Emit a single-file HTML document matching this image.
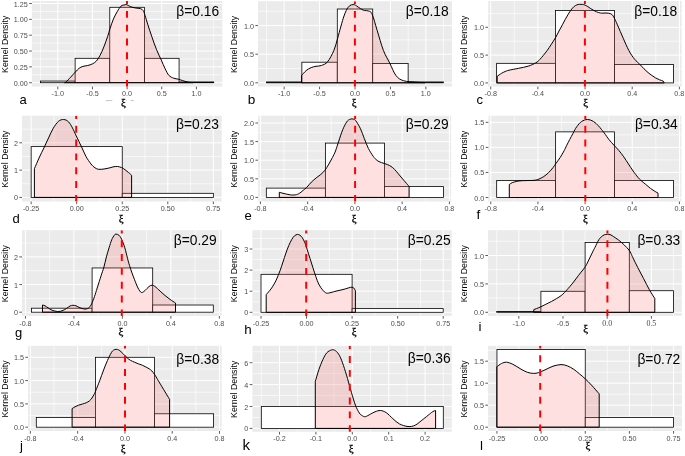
<!DOCTYPE html><html><head><meta charset="utf-8"><title>Kernel density panels</title>
<style>html,body{margin:0;padding:0;background:#fff;}svg{display:block;will-change:transform;}text{font-family:"Liberation Sans", sans-serif;}</style></head><body>
<svg width="685" height="456" viewBox="0 0 685 456">
<rect x="0" y="0" width="685" height="456" fill="#fff"/>
<clipPath id="ca"><rect x="31.9" y="1.05" width="190.4" height="85.55"/></clipPath>
<rect x="31.9" y="1.05" width="190.4" height="85.55" fill="#ebebeb"/>
<path d="M40.47 1.05V86.6M75.12 1.05V86.6M109.77 1.05V86.6M144.42 1.05V86.6M179.07 1.05V86.6M213.72 1.05V86.6M31.9 74.78H222.3M31.9 58.94H222.3M31.9 43.1H222.3M31.9 27.26H222.3M31.9 11.42H222.3" stroke="#fff" stroke-width="0.7" fill="none" opacity="0.9"/>
<path d="M57.8 1.05V86.6M92.45 1.05V86.6M127.1 1.05V86.6M161.75 1.05V86.6M196.4 1.05V86.6M31.9 82.7H222.3M31.9 66.86H222.3M31.9 51.02H222.3M31.9 35.18H222.3M31.9 19.34H222.3M31.9 3.5H222.3" stroke="#fff" stroke-width="1" fill="none"/>
<g clip-path="url(#ca)">
<rect x="40.47" y="81.05" width="34.65" height="1.65" fill="#fff" stroke="#000" stroke-width="0.8"/>
<rect x="75.12" y="58.31" width="34.65" height="24.39" fill="#fff" stroke="#000" stroke-width="0.8"/>
<rect x="109.77" y="7.3" width="34.65" height="75.4" fill="#fff" stroke="#000" stroke-width="0.8"/>
<rect x="144.42" y="58.31" width="34.65" height="24.39" fill="#fff" stroke="#000" stroke-width="0.8"/>
<rect x="179.07" y="81.94" width="34.65" height="0.76" fill="#fff" stroke="#000" stroke-width="0.8"/>
<path d="M64.5 82.7 C64.78 82.57 65.2 82.8 66.2 81.9 C67.2 81 68.98 78.93 70.5 77.3 C72.02 75.67 73.87 73.6 75.3 72.1 C76.73 70.6 77.83 69.25 79.1 68.3 C80.37 67.35 81.47 66.87 82.9 66.4 C84.33 65.93 86.12 65.92 87.7 65.5 C89.28 65.08 90.97 64.63 92.4 63.9 C93.83 63.17 95.02 62.53 96.3 61.1 C97.58 59.67 98.83 57.68 100.1 55.3 C101.37 52.92 102.63 49.97 103.9 46.8 C105.17 43.63 106.68 39.33 107.7 36.3 C108.72 33.27 109.05 31.47 110 28.6 C110.95 25.73 112.18 21.95 113.4 19.1 C114.62 16.25 116.02 13.67 117.3 11.5 C118.58 9.33 119.83 7.22 121.1 6.1 C122.37 4.98 123.93 5.02 124.9 4.8 C125.87 4.58 125.93 4.48 126.9 4.8 C127.87 5.12 129.27 6.17 130.7 6.7 C132.13 7.23 133.9 7.68 135.5 8 C137.1 8.32 139.03 8.18 140.3 8.6 C141.57 9.02 142.32 9.38 143.1 10.5 C143.88 11.62 144.2 12.92 145 15.3 C145.8 17.68 146.78 21.3 147.9 24.8 C149.02 28.3 150.27 32.17 151.7 36.3 C153.13 40.43 154.9 45.63 156.5 49.6 C158.1 53.57 159.87 56.92 161.3 60.1 C162.73 63.28 163.83 66.15 165.1 68.7 C166.37 71.25 167.47 73.82 168.9 75.4 C170.33 76.98 172.12 77.57 173.7 78.2 C175.28 78.83 176.97 78.82 178.4 79.2 C179.83 79.58 180.7 80.02 182.3 80.5 C183.9 80.98 186.22 81.75 188 82.1 C189.78 82.45 192.17 82.52 193 82.6 L193 82.7 L64.5 82.7 Z" fill="#ff6666" fill-opacity="0.2" stroke="#000" stroke-width="1" stroke-linejoin="round"/>
<line x1="127" y1="86.9" x2="127" y2="1.05" stroke="#ff0000" stroke-width="2" stroke-dasharray="6.9 6.92"/>
</g>
<path d="M57.8 86.6V89.3M92.45 86.6V89.3M127.1 86.6V89.3M161.75 86.6V89.3M196.4 86.6V89.3M29.2 82.7H31.9M29.2 66.86H31.9M29.2 51.02H31.9M29.2 35.18H31.9M29.2 19.34H31.9M29.2 3.5H31.9" stroke="#333" stroke-width="0.8" fill="none"/>
<text x="57.8" y="96.2" font-size="7.2" fill="#4d4d4d" text-anchor="middle">-1.0</text>
<text x="92.45" y="96.2" font-size="7.2" fill="#4d4d4d" text-anchor="middle">-0.5</text>
<text x="127.1" y="96.2" font-size="7.2" fill="#4d4d4d" text-anchor="middle">0.0</text>
<text x="161.75" y="96.2" font-size="7.2" fill="#4d4d4d" text-anchor="middle">0.5</text>
<text x="196.4" y="96.2" font-size="7.2" fill="#4d4d4d" text-anchor="middle">1.0</text>
<text x="27.8" y="85.7" font-size="7.2" fill="#4d4d4d" text-anchor="end">0.00</text>
<text x="27.8" y="69.86" font-size="7.2" fill="#4d4d4d" text-anchor="end">0.25</text>
<text x="27.8" y="54.02" font-size="7.2" fill="#4d4d4d" text-anchor="end">0.50</text>
<text x="27.8" y="38.18" font-size="7.2" fill="#4d4d4d" text-anchor="end">0.75</text>
<text x="27.8" y="22.34" font-size="7.2" fill="#4d4d4d" text-anchor="end">1.00</text>
<text x="27.8" y="6.5" font-size="7.2" fill="#4d4d4d" text-anchor="end">1.25</text>
<text transform="translate(7.6 44.32) rotate(-90)" font-size="8.8" text-anchor="middle" fill="#000">Kernel Density</text>
<text x="123.5" y="106.1" font-size="10.8" text-anchor="middle" fill="#000" stroke="#000" stroke-width="0.3" style="font-family:'Liberation Serif',serif">ξ</text>
<text x="219.2" y="15.7" font-size="13.8" text-anchor="end" fill="#000">β=0.16</text>
<text x="19.5" y="103.9" font-size="13.0" fill="#000">a</text>
<clipPath id="cb"><rect x="258.05" y="1.2" width="193.95" height="85.4"/></clipPath>
<rect x="258.05" y="1.2" width="193.95" height="85.4" fill="#ebebeb"/>
<path d="M266.44 1.2V86.6M301.86 1.2V86.6M337.29 1.2V86.6M372.71 1.2V86.6M408.14 1.2V86.6M443.56 1.2V86.6M258.05 68.5H452M258.05 39.9H452M258.05 11.3H452" stroke="#fff" stroke-width="0.7" fill="none" opacity="0.9"/>
<path d="M284.15 1.2V86.6M319.57 1.2V86.6M355 1.2V86.6M390.43 1.2V86.6M425.85 1.2V86.6M258.05 82.8H452M258.05 54.2H452M258.05 25.6H452" stroke="#fff" stroke-width="1" fill="none"/>
<g clip-path="url(#cb)">
<rect x="266.44" y="81.94" width="35.43" height="0.86" fill="#fff" stroke="#000" stroke-width="0.8"/>
<rect x="301.86" y="62.21" width="35.43" height="20.59" fill="#fff" stroke="#000" stroke-width="0.8"/>
<rect x="337.29" y="9.01" width="35.42" height="73.79" fill="#fff" stroke="#000" stroke-width="0.8"/>
<rect x="372.71" y="63.58" width="35.43" height="19.22" fill="#fff" stroke="#000" stroke-width="0.8"/>
<rect x="408.14" y="81.94" width="35.43" height="0.86" fill="#fff" stroke="#000" stroke-width="0.8"/>
<path d="M301.6 82.6 L301.6 75.6 C302.35 74.77 304.5 71.93 306.1 70.6 C307.7 69.27 309.55 68.32 311.2 67.6 C312.85 66.88 314.32 66.65 316 66.3 C317.68 65.95 319.37 66.25 321.3 65.5 C323.23 64.75 325.5 64.32 327.6 61.8 C329.7 59.28 332.27 54.18 333.9 50.4 C335.53 46.62 336.22 43.17 337.4 39.1 C338.58 35.03 339.9 29.85 341 26 C342.1 22.15 343 18.83 344 16 C345 13.17 346 10.75 347 9 C348 7.25 348.98 6.23 350 5.5 C351.02 4.77 352.18 4.65 353.1 4.6 C354.02 4.55 354.65 4.78 355.5 5.2 C356.35 5.62 356.92 6.28 358.2 7.1 C359.48 7.92 361.32 9.4 363.2 10.1 C365.08 10.8 367.95 10.47 369.5 11.3 C371.05 12.13 371.23 11.95 372.5 15.1 C373.77 18.25 375.28 24.32 377.1 30.2 C378.92 36.08 381.3 44.93 383.4 50.4 C385.5 55.87 387.6 58.8 389.7 63 C391.8 67.2 393.7 72.65 396 75.6 C398.3 78.55 400.17 79.6 403.5 80.7 C406.83 81.8 412.42 81.88 416 82.2 C419.58 82.52 423.5 82.53 425 82.6 L425 82.8 L301.6 82.8 Z" fill="#ff6666" fill-opacity="0.2" stroke="#000" stroke-width="1" stroke-linejoin="round"/>
<line x1="354.9" y1="86.9" x2="354.9" y2="1.2" stroke="#ff0000" stroke-width="2" stroke-dasharray="6.9 6.92"/>
</g>
<path d="M284.15 86.6V89.3M319.57 86.6V89.3M355 86.6V89.3M390.43 86.6V89.3M425.85 86.6V89.3M255.35 82.8H258.05M255.35 54.2H258.05M255.35 25.6H258.05" stroke="#333" stroke-width="0.8" fill="none"/>
<text x="284.15" y="96.2" font-size="7.2" fill="#4d4d4d" text-anchor="middle">-1.0</text>
<text x="319.57" y="96.2" font-size="7.2" fill="#4d4d4d" text-anchor="middle">-0.5</text>
<text x="355" y="96.2" font-size="7.2" fill="#4d4d4d" text-anchor="middle">0.0</text>
<text x="390.43" y="96.2" font-size="7.2" fill="#4d4d4d" text-anchor="middle">0.5</text>
<text x="425.85" y="96.2" font-size="7.2" fill="#4d4d4d" text-anchor="middle">1.0</text>
<text x="253.95" y="85.8" font-size="7.2" fill="#4d4d4d" text-anchor="end">0.0</text>
<text x="253.95" y="57.2" font-size="7.2" fill="#4d4d4d" text-anchor="end">0.5</text>
<text x="253.95" y="28.6" font-size="7.2" fill="#4d4d4d" text-anchor="end">1.0</text>
<text transform="translate(237.1 44.4) rotate(-90)" font-size="8.8" text-anchor="middle" fill="#000">Kernel Density</text>
<text x="354.2" y="106.3" font-size="10.8" text-anchor="middle" fill="#000" stroke="#000" stroke-width="0.3" style="font-family:'Liberation Serif',serif">ξ</text>
<text x="448.6" y="15.7" font-size="13.8" text-anchor="end" fill="#000">β=0.18</text>
<text x="247.8" y="103.9" font-size="13.5" fill="#000">b</text>
<clipPath id="cc"><rect x="488.1" y="1.05" width="193.6" height="85.55"/></clipPath>
<rect x="488.1" y="1.05" width="193.6" height="85.55" fill="#ebebeb"/>
<path d="M514.31 1.05V86.6M561.47 1.05V86.6M608.63 1.05V86.6M655.79 1.05V86.6M488.1 69H681.7M488.1 41.2H681.7M488.1 13.4H681.7" stroke="#fff" stroke-width="0.7" fill="none" opacity="0.9"/>
<path d="M490.73 1.05V86.6M537.89 1.05V86.6M585.05 1.05V86.6M632.21 1.05V86.6M679.37 1.05V86.6M488.1 82.9H681.7M488.1 55.1H681.7M488.1 27.3H681.7" stroke="#fff" stroke-width="1" fill="none"/>
<g clip-path="url(#cc)">
<rect x="496.62" y="63.33" width="58.95" height="19.57" fill="#fff" stroke="#000" stroke-width="0.8"/>
<rect x="555.57" y="10.51" width="58.95" height="72.39" fill="#fff" stroke="#000" stroke-width="0.8"/>
<rect x="614.52" y="64.5" width="58.95" height="18.4" fill="#fff" stroke="#000" stroke-width="0.8"/>
<path d="M497.2 82.9 L497.2 76.3 C497.9 75.82 500.1 74.18 501.4 73.4 C502.7 72.62 503.72 72.13 505 71.6 C506.28 71.07 506.83 70.75 509.1 70.2 C511.37 69.65 515.43 68.97 518.6 68.3 C521.77 67.63 525.23 67.1 528.1 66.2 C530.97 65.3 533.85 64.02 535.8 62.9 C537.75 61.78 538.53 60.77 539.8 59.5 C541.07 58.23 542.15 56.83 543.4 55.3 C544.65 53.77 546.03 52.05 547.3 50.3 C548.57 48.55 549.58 46.98 551 44.8 C552.42 42.62 554.47 39.5 555.8 37.2 C557.13 34.9 557.9 33.07 559 31 C560.1 28.93 561.35 26.75 562.4 24.8 C563.45 22.85 564.33 21.05 565.3 19.3 C566.27 17.55 567.25 15.85 568.2 14.3 C569.15 12.75 570.05 11.27 571 10 C571.95 8.73 572.93 7.55 573.9 6.7 C574.87 5.85 575.85 5.3 576.8 4.9 C577.75 4.5 578.65 4.38 579.6 4.3 C580.55 4.22 581.6 4.27 582.5 4.4 C583.4 4.53 584.12 4.73 585 5.1 C585.88 5.47 586.85 6.02 587.8 6.6 C588.75 7.18 589.73 7.98 590.7 8.6 C591.67 9.22 592.63 9.77 593.6 10.3 C594.57 10.83 595.38 11.35 596.5 11.8 C597.62 12.25 599.22 12.78 600.3 13 C601.38 13.22 602.05 13.1 603 13.1 C603.95 13.1 605.08 12.98 606 13 C606.92 13.02 607.7 13.07 608.5 13.2 C609.3 13.33 610.13 13.5 610.8 13.8 C611.47 14.1 612.03 14.5 612.5 15 C612.97 15.5 613.1 15.88 613.6 16.8 C614.1 17.72 614.87 19.17 615.5 20.5 C616.13 21.83 616.6 22.97 617.4 24.8 C618.2 26.63 619.33 29.27 620.3 31.5 C621.27 33.73 622.25 36.02 623.2 38.2 C624.15 40.38 625.05 42.53 626 44.6 C626.95 46.67 627.95 48.82 628.9 50.6 C629.85 52.38 630.75 53.87 631.7 55.3 C632.65 56.73 633.63 58.05 634.6 59.2 C635.57 60.35 636.55 61.25 637.5 62.2 C638.45 63.15 639.22 63.8 640.3 64.9 C641.38 66 642.72 67.53 644 68.8 C645.28 70.07 646.7 71.4 648 72.5 C649.3 73.6 650.53 74.5 651.8 75.4 C653.07 76.3 654.32 77.17 655.6 77.9 C656.88 78.63 658.23 79.27 659.5 79.8 C660.77 80.33 662.42 80.58 663.2 81.1 C663.98 81.62 664.03 82.6 664.2 82.9 L664.2 82.9 L497.2 82.9 Z" fill="#ff6666" fill-opacity="0.2" stroke="#000" stroke-width="1" stroke-linejoin="round"/>
<line x1="584.9" y1="86.9" x2="584.9" y2="1.05" stroke="#ff0000" stroke-width="2" stroke-dasharray="6.9 6.92"/>
</g>
<path d="M490.73 86.6V89.3M537.89 86.6V89.3M585.05 86.6V89.3M632.21 86.6V89.3M679.37 86.6V89.3M485.4 82.9H488.1M485.4 55.1H488.1M485.4 27.3H488.1" stroke="#333" stroke-width="0.8" fill="none"/>
<text x="490.73" y="96.2" font-size="7.2" fill="#4d4d4d" text-anchor="middle">-0.8</text>
<text x="537.89" y="96.2" font-size="7.2" fill="#4d4d4d" text-anchor="middle">-0.4</text>
<text x="585.05" y="96.2" font-size="7.2" fill="#4d4d4d" text-anchor="middle">0.0</text>
<text x="632.21" y="96.2" font-size="7.2" fill="#4d4d4d" text-anchor="middle">0.4</text>
<text x="679.37" y="96.2" font-size="7.2" fill="#4d4d4d" text-anchor="middle">0.8</text>
<text x="484" y="85.9" font-size="7.2" fill="#4d4d4d" text-anchor="end">0.0</text>
<text x="484" y="58.1" font-size="7.2" fill="#4d4d4d" text-anchor="end">0.5</text>
<text x="484" y="30.3" font-size="7.2" fill="#4d4d4d" text-anchor="end">1.0</text>
<text transform="translate(467.2 44.32) rotate(-90)" font-size="8.8" text-anchor="middle" fill="#000">Kernel Density</text>
<text x="585.6" y="106.2" font-size="10.8" text-anchor="middle" fill="#000" stroke="#000" stroke-width="0.3" style="font-family:'Liberation Serif',serif">ξ</text>
<text x="677.2" y="15.7" font-size="13.8" text-anchor="end" fill="#000">β=0.18</text>
<text x="476.6" y="103.9" font-size="13.0" fill="#000">c</text>
<clipPath id="cd"><rect x="22" y="115.7" width="199.7" height="85.8"/></clipPath>
<rect x="22" y="115.7" width="199.7" height="85.8" fill="#ebebeb"/>
<path d="M53.93 115.7V201.5M99.47 115.7V201.5M145.02 115.7V201.5M190.57 115.7V201.5M22 183.75H221.7M22 156.45H221.7M22 129.15H221.7" stroke="#fff" stroke-width="0.7" fill="none" opacity="0.9"/>
<path d="M31.15 115.7V201.5M76.7 115.7V201.5M122.25 115.7V201.5M167.8 115.7V201.5M213.35 115.7V201.5M22 197.4H221.7M22 170.1H221.7M22 142.8H221.7" stroke="#fff" stroke-width="1" fill="none"/>
<g clip-path="url(#cd)">
<rect x="31.15" y="146.62" width="91.1" height="50.78" fill="#fff" stroke="#000" stroke-width="0.8"/>
<rect x="122.25" y="193.31" width="91.1" height="4.09" fill="#fff" stroke="#000" stroke-width="0.8"/>
<path d="M34.4 197.4 L34.4 168.7 C35.25 166.75 37.92 160.45 39.5 157 C41.08 153.55 42.4 151.17 43.9 148 C45.4 144.83 46.93 141.3 48.5 138 C50.07 134.7 51.63 130.98 53.3 128.2 C54.97 125.42 56.77 122.75 58.5 121.3 C60.23 119.85 62.03 119.42 63.7 119.5 C65.37 119.58 67.03 120.38 68.5 121.8 C69.97 123.22 71.2 125.63 72.5 128 C73.8 130.37 74.78 132.83 76.3 136 C77.82 139.17 79.98 143.58 81.6 147 C83.22 150.42 84.43 153.67 86 156.5 C87.57 159.33 89.5 162.12 91 164 C92.5 165.88 93.73 166.92 95 167.8 C96.27 168.68 97.1 169.1 98.6 169.3 C100.1 169.5 102.12 169.25 104 169 C105.88 168.75 108.23 168.18 109.9 167.8 C111.57 167.42 112.73 166.92 114 166.7 C115.27 166.48 116.25 166.37 117.5 166.5 C118.75 166.63 120.25 166.97 121.5 167.5 C122.75 168.03 123.83 168.87 125 169.7 C126.17 170.53 127.4 171.57 128.5 172.5 C129.6 173.43 131.08 174.83 131.6 175.3 L131.6 197.4 L131.6 197.4 L34.4 197.4 Z" fill="#ff6666" fill-opacity="0.2" stroke="#000" stroke-width="1" stroke-linejoin="round"/>
<line x1="76.2" y1="201.8" x2="76.2" y2="115.7" stroke="#ff0000" stroke-width="2" stroke-dasharray="6.9 6.92"/>
</g>
<path d="M31.15 201.5V204.2M76.7 201.5V204.2M122.25 201.5V204.2M167.8 201.5V204.2M213.35 201.5V204.2M19.3 197.4H22M19.3 170.1H22M19.3 142.8H22" stroke="#333" stroke-width="0.8" fill="none"/>
<text x="31.15" y="211.1" font-size="7.2" fill="#4d4d4d" text-anchor="middle">-0.25</text>
<text x="76.7" y="211.1" font-size="7.2" fill="#4d4d4d" text-anchor="middle">0.00</text>
<text x="122.25" y="211.1" font-size="7.2" fill="#4d4d4d" text-anchor="middle">0.25</text>
<text x="167.8" y="211.1" font-size="7.2" fill="#4d4d4d" text-anchor="middle">0.50</text>
<text x="213.35" y="211.1" font-size="7.2" fill="#4d4d4d" text-anchor="middle">0.75</text>
<text x="17.9" y="200.4" font-size="7.2" fill="#4d4d4d" text-anchor="end">0</text>
<text x="17.9" y="173.1" font-size="7.2" fill="#4d4d4d" text-anchor="end">1</text>
<text x="17.9" y="145.8" font-size="7.2" fill="#4d4d4d" text-anchor="end">2</text>
<text transform="translate(7.6 159.1) rotate(-90)" font-size="8.8" text-anchor="middle" fill="#000">Kernel Density</text>
<text x="121.1" y="222.2" font-size="10.8" text-anchor="middle" fill="#000" stroke="#000" stroke-width="0.3" style="font-family:'Liberation Serif',serif">ξ</text>
<text x="218.85" y="129.4" font-size="13.8" text-anchor="end" fill="#000">β=0.23</text>
<text x="12.5" y="222.9" font-size="13.0" fill="#000">d</text>
<clipPath id="ce"><rect x="258.1" y="115.7" width="193.1" height="85.8"/></clipPath>
<rect x="258.1" y="115.7" width="193.1" height="85.8" fill="#ebebeb"/>
<path d="M284.04 115.7V201.5M331.28 115.7V201.5M378.52 115.7V201.5M425.76 115.7V201.5M258.1 188.1H451.2M258.1 169.5H451.2M258.1 150.9H451.2M258.1 132.3H451.2" stroke="#fff" stroke-width="0.7" fill="none" opacity="0.9"/>
<path d="M260.42 115.7V201.5M307.66 115.7V201.5M354.9 115.7V201.5M402.14 115.7V201.5M449.38 115.7V201.5M258.1 197.4H451.2M258.1 178.8H451.2M258.1 160.2H451.2M258.1 141.6H451.2M258.1 123H451.2" stroke="#fff" stroke-width="1" fill="none"/>
<g clip-path="url(#ce)">
<rect x="266.32" y="188.1" width="59.05" height="9.3" fill="#fff" stroke="#000" stroke-width="0.8"/>
<rect x="325.38" y="143.09" width="59.05" height="54.31" fill="#fff" stroke="#000" stroke-width="0.8"/>
<rect x="384.42" y="186.61" width="59.05" height="10.79" fill="#fff" stroke="#000" stroke-width="0.8"/>
<path d="M279.3 197.4 L279.3 192.3 C279.92 192.47 281.73 192.98 283 193.3 C284.27 193.62 285.65 193.93 286.9 194.2 C288.15 194.47 289.33 194.77 290.5 194.9 C291.67 195.03 292.9 195.05 293.9 195 C294.9 194.95 295.72 194.8 296.5 194.6 C297.28 194.4 297.85 194.2 298.6 193.8 C299.35 193.4 300.23 192.78 301 192.2 C301.77 191.62 302.25 191.1 303.2 190.3 C304.15 189.5 305.33 188.77 306.7 187.4 C308.07 186.03 309.83 183.67 311.4 182.1 C312.97 180.53 314.55 179.27 316.1 178 C317.65 176.73 319.25 175.77 320.7 174.5 C322.15 173.23 323.43 172.15 324.8 170.4 C326.17 168.65 327.63 166.13 328.9 164 C330.17 161.87 331.3 159.77 332.4 157.6 C333.5 155.43 334.43 153.77 335.5 151 C336.57 148.23 337.58 144.58 338.8 141 C340.02 137.42 341.48 132.68 342.8 129.5 C344.12 126.32 345.58 123.57 346.7 121.9 C347.82 120.23 348.62 120 349.5 119.5 C350.38 119 351.17 118.88 352 118.9 C352.83 118.92 353.73 119.1 354.5 119.6 C355.27 120.1 355.6 120.37 356.6 121.9 C357.6 123.43 359.2 126 360.5 128.8 C361.8 131.6 363.08 135.42 364.4 138.7 C365.72 141.98 366.92 145.55 368.4 148.5 C369.88 151.45 372.07 154.6 373.3 156.4 C374.53 158.2 374.85 158.43 375.8 159.3 C376.75 160.17 377.63 160.92 379 161.6 C380.37 162.28 382.58 162.9 384 163.4 C385.42 163.9 386.33 164.1 387.5 164.6 C388.67 165.1 389.83 165.62 391 166.4 C392.17 167.18 393.33 168.13 394.5 169.3 C395.67 170.47 396.92 172.12 398 173.4 C399.08 174.68 400.02 175.83 401 177 C401.98 178.17 402.98 179.33 403.9 180.4 C404.82 181.47 405.63 182.4 406.5 183.4 C407.37 184.4 408.67 185.9 409.1 186.4 L409.1 197.4 L409.1 197.4 L279.3 197.4 Z" fill="#ff6666" fill-opacity="0.2" stroke="#000" stroke-width="1" stroke-linejoin="round"/>
<line x1="355.1" y1="201.8" x2="355.1" y2="115.7" stroke="#ff0000" stroke-width="2" stroke-dasharray="6.9 6.92"/>
</g>
<path d="M260.42 201.5V204.2M307.66 201.5V204.2M354.9 201.5V204.2M402.14 201.5V204.2M449.38 201.5V204.2M255.4 197.4H258.1M255.4 178.8H258.1M255.4 160.2H258.1M255.4 141.6H258.1M255.4 123H258.1" stroke="#333" stroke-width="0.8" fill="none"/>
<text x="260.42" y="211.1" font-size="7.2" fill="#4d4d4d" text-anchor="middle">-0.8</text>
<text x="307.66" y="211.1" font-size="7.2" fill="#4d4d4d" text-anchor="middle">-0.4</text>
<text x="354.9" y="211.1" font-size="7.2" fill="#4d4d4d" text-anchor="middle">0.0</text>
<text x="402.14" y="211.1" font-size="7.2" fill="#4d4d4d" text-anchor="middle">0.4</text>
<text x="449.38" y="211.1" font-size="7.2" fill="#4d4d4d" text-anchor="middle">0.8</text>
<text x="254" y="200.4" font-size="7.2" fill="#4d4d4d" text-anchor="end">0.0</text>
<text x="254" y="181.8" font-size="7.2" fill="#4d4d4d" text-anchor="end">0.5</text>
<text x="254" y="163.2" font-size="7.2" fill="#4d4d4d" text-anchor="end">1.0</text>
<text x="254" y="144.6" font-size="7.2" fill="#4d4d4d" text-anchor="end">1.5</text>
<text x="254" y="126" font-size="7.2" fill="#4d4d4d" text-anchor="end">2.0</text>
<text transform="translate(237.1 159.1) rotate(-90)" font-size="8.8" text-anchor="middle" fill="#000">Kernel Density</text>
<text x="354.1" y="222.2" font-size="10.8" text-anchor="middle" fill="#000" stroke="#000" stroke-width="0.3" style="font-family:'Liberation Serif',serif">ξ</text>
<text x="448.6" y="129.4" font-size="13.8" text-anchor="end" fill="#000">β=0.29</text>
<text x="244.4" y="219.7" font-size="13.0" fill="#000">e</text>
<clipPath id="cf"><rect x="488.4" y="115.7" width="193" height="85.8"/></clipPath>
<rect x="488.4" y="115.7" width="193" height="85.8" fill="#ebebeb"/>
<path d="M514.36 115.7V201.5M561.52 115.7V201.5M608.68 115.7V201.5M655.84 115.7V201.5M488.4 184.97H681.4M488.4 159.93H681.4M488.4 134.88H681.4" stroke="#fff" stroke-width="0.7" fill="none" opacity="0.9"/>
<path d="M490.78 115.7V201.5M537.94 115.7V201.5M585.1 115.7V201.5M632.26 115.7V201.5M679.42 115.7V201.5M488.4 197.5H681.4M488.4 172.45H681.4M488.4 147.4H681.4M488.4 122.35H681.4" stroke="#fff" stroke-width="1" fill="none"/>
<g clip-path="url(#cf)">
<rect x="496.68" y="180.47" width="58.95" height="17.03" fill="#fff" stroke="#000" stroke-width="0.8"/>
<rect x="555.62" y="131.87" width="58.95" height="65.63" fill="#fff" stroke="#000" stroke-width="0.8"/>
<rect x="614.58" y="180.47" width="58.95" height="17.03" fill="#fff" stroke="#000" stroke-width="0.8"/>
<path d="M509.3 197.5 L509.3 184.5 C509.78 184.2 510.93 183.23 512.2 182.7 C513.47 182.17 515.43 181.62 516.9 181.3 C518.37 180.98 519.65 180.92 521 180.8 C522.35 180.68 522.97 180.67 525 180.6 C527.03 180.53 531.28 180.53 533.2 180.4 C535.12 180.27 535.52 180.03 536.5 179.8 C537.48 179.57 537.9 179.53 539.1 179 C540.3 178.47 542.15 177.63 543.7 176.6 C545.25 175.57 546.83 174.32 548.4 172.8 C549.97 171.28 551.83 169.07 553.1 167.5 C554.37 165.93 554.83 165.05 556 163.4 C557.17 161.75 558.73 159.73 560.1 157.6 C561.47 155.47 563.08 152.67 564.2 150.6 C565.32 148.53 565.37 148.02 566.8 145.2 C568.23 142.38 571.15 136.77 572.8 133.7 C574.45 130.63 575.23 128.83 576.7 126.8 C578.17 124.77 579.8 122.72 581.6 121.5 C583.4 120.28 585.52 119.5 587.5 119.5 C589.48 119.5 591.68 120.45 593.5 121.5 C595.32 122.55 597.07 124.47 598.4 125.8 C599.73 127.13 600.52 128.3 601.5 129.5 C602.48 130.7 603.05 131.32 604.3 133 C605.55 134.68 607.35 137.52 609 139.6 C610.65 141.68 612.55 143.68 614.2 145.5 C615.85 147.32 617.32 148.62 618.9 150.5 C620.48 152.38 622.12 154.57 623.7 156.8 C625.28 159.03 626.83 161.53 628.4 163.9 C629.97 166.27 631.52 168.77 633.1 171 C634.68 173.23 636.58 175.72 637.9 177.3 C639.22 178.88 639.7 179.32 641 180.5 C642.3 181.68 644.12 183.08 645.7 184.4 C647.28 185.72 648.92 187.22 650.5 188.4 C652.08 189.58 653.95 190.72 655.2 191.5 C656.45 192.28 657.53 192.83 658 193.1 L658 197.5 L658 197.5 L509.3 197.5 Z" fill="#ff6666" fill-opacity="0.2" stroke="#000" stroke-width="1" stroke-linejoin="round"/>
<line x1="585.3" y1="201.8" x2="585.3" y2="115.7" stroke="#ff0000" stroke-width="2" stroke-dasharray="6.9 6.92"/>
</g>
<path d="M490.78 201.5V204.2M537.94 201.5V204.2M585.1 201.5V204.2M632.26 201.5V204.2M679.42 201.5V204.2M485.7 197.5H488.4M485.7 172.45H488.4M485.7 147.4H488.4M485.7 122.35H488.4" stroke="#333" stroke-width="0.8" fill="none"/>
<text x="490.78" y="211.1" font-size="7.2" fill="#4d4d4d" text-anchor="middle">-0.8</text>
<text x="537.94" y="211.1" font-size="7.2" fill="#4d4d4d" text-anchor="middle">-0.4</text>
<text x="585.1" y="211.1" font-size="7.2" fill="#4d4d4d" text-anchor="middle">0.0</text>
<text x="632.26" y="211.1" font-size="7.2" fill="#4d4d4d" text-anchor="middle">0.4</text>
<text x="679.42" y="211.1" font-size="7.2" fill="#4d4d4d" text-anchor="middle">0.8</text>
<text x="484.3" y="200.5" font-size="7.2" fill="#4d4d4d" text-anchor="end">0.0</text>
<text x="484.3" y="175.45" font-size="7.2" fill="#4d4d4d" text-anchor="end">0.5</text>
<text x="484.3" y="150.4" font-size="7.2" fill="#4d4d4d" text-anchor="end">1.0</text>
<text x="484.3" y="125.35" font-size="7.2" fill="#4d4d4d" text-anchor="end">1.5</text>
<text transform="translate(467.2 159.1) rotate(-90)" font-size="8.8" text-anchor="middle" fill="#000">Kernel Density</text>
<text x="585.5" y="222.2" font-size="10.8" text-anchor="middle" fill="#000" stroke="#000" stroke-width="0.3" style="font-family:'Liberation Serif',serif">ξ</text>
<text x="677.8" y="129.4" font-size="13.8" text-anchor="end" fill="#000">β=0.34</text>
<text x="476.4" y="219" font-size="13.5" fill="#000">f</text>
<clipPath id="cg"><rect x="22" y="230.2" width="199.7" height="85.8"/></clipPath>
<rect x="22" y="230.2" width="199.7" height="85.8" fill="#ebebeb"/>
<path d="M49.68 230.2V316M98.16 230.2V316M146.64 230.2V316M195.12 230.2V316M22 298.38H221.7M22 270.73H221.7M22 243.07H221.7" stroke="#fff" stroke-width="0.7" fill="none" opacity="0.9"/>
<path d="M25.44 230.2V316M73.92 230.2V316M122.4 230.2V316M170.88 230.2V316M219.36 230.2V316M22 312.2H221.7M22 284.55H221.7M22 256.9H221.7" stroke="#fff" stroke-width="1" fill="none"/>
<g clip-path="url(#cg)">
<rect x="31.5" y="308.19" width="60.6" height="4.01" fill="#fff" stroke="#000" stroke-width="0.8"/>
<rect x="92.1" y="267.96" width="60.6" height="44.24" fill="#fff" stroke="#000" stroke-width="0.8"/>
<rect x="152.7" y="305.01" width="60.6" height="7.19" fill="#fff" stroke="#000" stroke-width="0.8"/>
<path d="M42.5 312.2 L42.5 305 C42.92 305.13 44.08 305.33 45 305.8 C45.92 306.27 46.83 307.07 48 307.8 C49.17 308.53 50.38 309.58 52 310.2 C53.62 310.82 56.03 311.4 57.7 311.5 C59.37 311.6 60.53 311.3 62 310.8 C63.47 310.3 65.17 309.3 66.5 308.5 C67.83 307.7 68.93 306.53 70 306 C71.07 305.47 71.9 305.33 72.9 305.3 C73.9 305.27 74.82 305.38 76 305.8 C77.18 306.22 78.57 307.25 80 307.8 C81.43 308.35 83.35 308.97 84.6 309.1 C85.85 309.23 86.72 308.88 87.5 308.6 C88.28 308.32 88.62 308.18 89.3 307.4 C89.98 306.62 90.73 305.72 91.6 303.9 C92.47 302.08 93.57 299.15 94.5 296.5 C95.43 293.85 96.08 291.52 97.2 288 C98.32 284.48 100.1 278.82 101.2 275.4 C102.3 271.98 102.93 270.58 103.8 267.5 C104.67 264.42 105.52 260.2 106.4 256.9 C107.28 253.6 108.22 250.55 109.1 247.7 C109.98 244.85 110.83 241.88 111.7 239.8 C112.57 237.72 113.6 236.15 114.3 235.2 C115 234.25 115.13 234.1 115.9 234.1 C116.67 234.1 117.95 234.35 118.9 235.2 C119.85 236.05 120.62 237.12 121.6 239.2 C122.58 241.28 123.82 244.52 124.8 247.7 C125.78 250.88 126.72 255.33 127.5 258.3 C128.28 261.27 128.75 263.05 129.5 265.5 C130.25 267.95 131.18 270.7 132 273 C132.82 275.3 133.4 276.8 134.4 279.3 C135.4 281.8 136.83 285.8 138 288 C139.17 290.2 140.23 292.08 141.4 292.5 C142.57 292.92 143.73 291.5 145 290.5 C146.27 289.5 147.8 287.38 149 286.5 C150.2 285.62 151.2 285.2 152.2 285.2 C153.2 285.2 153.68 285.52 155 286.5 C156.32 287.48 158.43 289.6 160.1 291.1 C161.77 292.6 163.35 294.12 165 295.5 C166.65 296.88 168.25 298.15 170 299.4 C171.75 300.65 174.58 302.4 175.5 303 L175.5 312.2 L175.5 312.2 L42.5 312.2 Z" fill="#ff6666" fill-opacity="0.2" stroke="#000" stroke-width="1" stroke-linejoin="round"/>
<line x1="121.8" y1="316.3" x2="121.8" y2="230.2" stroke="#ff0000" stroke-width="2" stroke-dasharray="6.9 6.92"/>
</g>
<path d="M25.44 316V318.7M73.92 316V318.7M122.4 316V318.7M170.88 316V318.7M219.36 316V318.7M19.3 312.2H22M19.3 284.55H22M19.3 256.9H22" stroke="#333" stroke-width="0.8" fill="none"/>
<text x="25.44" y="325.6" font-size="7.2" fill="#4d4d4d" text-anchor="middle">-0.8</text>
<text x="73.92" y="325.6" font-size="7.2" fill="#4d4d4d" text-anchor="middle">-0.4</text>
<text x="122.4" y="325.6" font-size="7.2" fill="#4d4d4d" text-anchor="middle">0.0</text>
<text x="170.88" y="325.6" font-size="7.2" fill="#4d4d4d" text-anchor="middle">0.4</text>
<text x="219.36" y="325.6" font-size="7.2" fill="#4d4d4d" text-anchor="middle">0.8</text>
<text x="17.9" y="315.2" font-size="7.2" fill="#4d4d4d" text-anchor="end">0</text>
<text x="17.9" y="287.55" font-size="7.2" fill="#4d4d4d" text-anchor="end">1</text>
<text x="17.9" y="259.9" font-size="7.2" fill="#4d4d4d" text-anchor="end">2</text>
<text transform="translate(7.6 273.6) rotate(-90)" font-size="8.8" text-anchor="middle" fill="#000">Kernel Density</text>
<text x="121" y="335.4" font-size="10.8" text-anchor="middle" fill="#000" stroke="#000" stroke-width="0.3" style="font-family:'Liberation Serif',serif">ξ</text>
<text x="216.6" y="245" font-size="13.8" text-anchor="end" fill="#000">β=0.29</text>
<text x="14.9" y="336.6" font-size="13.0" fill="#000">g</text>
<clipPath id="ch"><rect x="252.4" y="230.2" width="199.3" height="85.8"/></clipPath>
<rect x="252.4" y="230.2" width="199.3" height="85.8" fill="#ebebeb"/>
<path d="M283.78 230.2V316M329.32 230.2V316M374.88 230.2V316M420.43 230.2V316M252.4 301.75H451.7M252.4 280.65H451.7M252.4 259.55H451.7M252.4 238.45H451.7" stroke="#fff" stroke-width="0.7" fill="none" opacity="0.9"/>
<path d="M261 230.2V316M306.55 230.2V316M352.1 230.2V316M397.65 230.2V316M443.2 230.2V316M252.4 312.3H451.7M252.4 291.2H451.7M252.4 270.1H451.7M252.4 249H451.7" stroke="#fff" stroke-width="1" fill="none"/>
<g clip-path="url(#ch)">
<rect x="261" y="274.32" width="91.1" height="37.98" fill="#fff" stroke="#000" stroke-width="0.8"/>
<rect x="352.1" y="308.61" width="91.1" height="3.69" fill="#fff" stroke="#000" stroke-width="0.8"/>
<path d="M266.2 312.3 L266.2 294.6 C266.75 293.97 268.47 292.08 269.5 290.8 C270.53 289.52 271.28 288.68 272.4 286.9 C273.52 285.12 274.92 282.83 276.2 280.1 C277.48 277.37 278.97 273.52 280.1 270.5 C281.23 267.48 282.03 264.9 283 262 C283.97 259.1 284.93 255.85 285.9 253.1 C286.87 250.35 287.83 247.75 288.8 245.5 C289.77 243.25 290.75 241.22 291.7 239.6 C292.65 237.98 293.53 236.67 294.5 235.8 C295.47 234.93 296.58 234.48 297.5 234.4 C298.42 234.32 299.2 234.75 300 235.3 C300.8 235.85 301.5 236.48 302.3 237.7 C303.1 238.92 304 240.68 304.8 242.6 C305.6 244.52 306.23 246.55 307.1 249.2 C307.97 251.85 309.03 255.43 310 258.5 C310.97 261.57 311.93 264.6 312.9 267.6 C313.87 270.6 314.83 273.77 315.8 276.5 C316.77 279.23 317.58 281.78 318.7 284 C319.82 286.22 321.22 288.28 322.5 289.8 C323.78 291.32 324.98 292.65 326.4 293.1 C327.82 293.55 329.38 292.83 331 292.5 C332.62 292.17 334.43 291.52 336.1 291.1 C337.77 290.68 339.4 290.38 341 290 C342.6 289.62 344.1 289.25 345.7 288.8 C347.3 288.35 349.38 287.52 350.6 287.3 C351.82 287.08 352.37 287.25 353 287.5 C353.63 287.75 354 288.27 354.4 288.8 C354.8 289.33 355.23 290.38 355.4 290.7 L355.4 312.3 L355.4 312.3 L266.2 312.3 Z" fill="#ff6666" fill-opacity="0.2" stroke="#000" stroke-width="1" stroke-linejoin="round"/>
<line x1="306.2" y1="316.3" x2="306.2" y2="230.2" stroke="#ff0000" stroke-width="2" stroke-dasharray="6.9 6.92"/>
</g>
<path d="M261 316V318.7M306.55 316V318.7M352.1 316V318.7M397.65 316V318.7M443.2 316V318.7M249.7 312.3H252.4M249.7 291.2H252.4M249.7 270.1H252.4M249.7 249H252.4" stroke="#333" stroke-width="0.8" fill="none"/>
<text x="261" y="325.6" font-size="7.2" fill="#4d4d4d" text-anchor="middle">-0.25</text>
<text x="306.55" y="325.6" font-size="7.2" fill="#4d4d4d" text-anchor="middle">0.00</text>
<text x="352.1" y="325.6" font-size="7.2" fill="#4d4d4d" text-anchor="middle">0.25</text>
<text x="397.65" y="325.6" font-size="7.2" fill="#4d4d4d" text-anchor="middle">0.50</text>
<text x="443.2" y="325.6" font-size="7.2" fill="#4d4d4d" text-anchor="middle">0.75</text>
<text x="248.3" y="315.3" font-size="7.2" fill="#4d4d4d" text-anchor="end">0</text>
<text x="248.3" y="294.2" font-size="7.2" fill="#4d4d4d" text-anchor="end">1</text>
<text x="248.3" y="273.1" font-size="7.2" fill="#4d4d4d" text-anchor="end">2</text>
<text x="248.3" y="252" font-size="7.2" fill="#4d4d4d" text-anchor="end">3</text>
<text transform="translate(237.1 273.6) rotate(-90)" font-size="8.8" text-anchor="middle" fill="#000">Kernel Density</text>
<text x="354.1" y="335.4" font-size="10.8" text-anchor="middle" fill="#000" stroke="#000" stroke-width="0.3" style="font-family:'Liberation Serif',serif">ξ</text>
<text x="450.7" y="244.8" font-size="13.8" text-anchor="end" fill="#000">β=0.25</text>
<text x="244.2" y="334.1" font-size="13.4" fill="#000">h</text>
<clipPath id="ci"><rect x="488" y="230.2" width="193.8" height="85.8"/></clipPath>
<rect x="488" y="230.2" width="193.8" height="85.8" fill="#ebebeb"/>
<path d="M496.7 230.2V316M540.9 230.2V316M585.1 230.2V316M629.3 230.2V316M673.5 230.2V316M488 298.1H681.8M488 269.7H681.8M488 241.3H681.8" stroke="#fff" stroke-width="0.7" fill="none" opacity="0.9"/>
<path d="M518.8 230.2V316M563 230.2V316M607.2 230.2V316M651.4 230.2V316M488 312.3H681.8M488 283.9H681.8M488 255.5H681.8" stroke="#fff" stroke-width="1" fill="none"/>
<g clip-path="url(#ci)">
<rect x="496.7" y="311.45" width="44.2" height="0.85" fill="#fff" stroke="#000" stroke-width="0.8"/>
<rect x="540.9" y="291.28" width="44.2" height="21.02" fill="#fff" stroke="#000" stroke-width="0.8"/>
<rect x="585.1" y="242.44" width="44.2" height="69.86" fill="#fff" stroke="#000" stroke-width="0.8"/>
<rect x="629.3" y="290.72" width="44.2" height="21.58" fill="#fff" stroke="#000" stroke-width="0.8"/>
<path d="M533.8 312.3 L533.8 309.6 C534.83 309.2 538 308.08 540 307.2 C542 306.32 543.87 305.27 545.8 304.3 C547.73 303.33 549.82 302.35 551.6 301.4 C553.38 300.45 554.9 299.57 556.5 298.6 C558.1 297.63 559.92 296.55 561.2 295.6 C562.48 294.65 563.23 293.87 564.2 292.9 C565.17 291.93 565.57 291.45 567 289.8 C568.43 288.15 570.87 285.42 572.8 283 C574.73 280.58 577.07 277.3 578.6 275.3 C580.13 273.3 580.87 272.45 582 271 C583.13 269.55 584.43 268.1 585.4 266.6 C586.37 265.1 587 263.6 587.8 262 C588.6 260.4 589.4 258.67 590.2 257 C591 255.33 591.8 253.62 592.6 252 C593.4 250.38 593.95 249.37 595 247.3 C596.05 245.23 597.62 241.53 598.9 239.6 C600.18 237.67 601.6 236.55 602.7 235.7 C603.8 234.85 604.47 234.73 605.5 234.5 C606.53 234.27 607.98 234.22 608.9 234.3 C609.82 234.38 610.2 234.6 611 235 C611.8 235.4 612.45 235.87 613.7 236.7 C614.95 237.53 616.73 238.62 618.5 240 C620.27 241.38 622.53 243.3 624.3 245 C626.07 246.7 627.98 248.78 629.1 250.2 C630.22 251.62 630.35 252.22 631 253.5 C631.65 254.78 631.87 255.55 633 257.9 C634.13 260.25 636.03 264.15 637.8 267.6 C639.57 271.05 641.67 274.9 643.6 278.6 C645.53 282.3 647.53 286.48 649.4 289.8 C651.27 293.12 653.9 297.05 654.8 298.5 L654.8 312.3 L654.8 312.3 L533.8 312.3 Z" fill="#ff6666" fill-opacity="0.2" stroke="#000" stroke-width="1" stroke-linejoin="round"/>
<line x1="607.4" y1="316.3" x2="607.4" y2="230.2" stroke="#ff0000" stroke-width="2" stroke-dasharray="6.9 6.92"/>
</g>
<path d="M518.8 316V318.7M563 316V318.7M607.2 316V318.7M651.4 316V318.7M485.3 312.3H488M485.3 283.9H488M485.3 255.5H488" stroke="#333" stroke-width="0.8" fill="none"/>
<text x="518.8" y="325.6" font-size="7.2" fill="#4d4d4d" text-anchor="middle">-1.0</text>
<text x="563" y="325.6" font-size="7.2" fill="#4d4d4d" text-anchor="middle">-0.5</text>
<text x="607.2" y="325.6" font-size="7.9" fill="#4d4d4d" text-anchor="middle" style="font-family:'Liberation Serif',serif">0.0</text>
<text x="651.4" y="325.6" font-size="7.9" fill="#4d4d4d" text-anchor="middle" style="font-family:'Liberation Serif',serif">0.5</text>
<text x="483.9" y="315.3" font-size="7.2" fill="#4d4d4d" text-anchor="end">0.0</text>
<text x="483.9" y="286.9" font-size="7.2" fill="#4d4d4d" text-anchor="end">0.5</text>
<text x="483.9" y="258.5" font-size="7.2" fill="#4d4d4d" text-anchor="end">1.0</text>
<text transform="translate(467.2 273.6) rotate(-90)" font-size="8.8" text-anchor="middle" fill="#000">Kernel Density</text>
<text x="585.6" y="332.2" font-size="10.8" text-anchor="middle" fill="#000" stroke="#000" stroke-width="0.3" style="font-family:'Liberation Serif',serif">ξ</text>
<text x="680.3" y="244.8" font-size="13.8" text-anchor="end" fill="#000">β=0.33</text>
<text x="478.6" y="331" font-size="13.5" fill="#000">i</text>
<clipPath id="cj"><rect x="28" y="345.8" width="193.7" height="85.2"/></clipPath>
<rect x="28" y="345.8" width="193.7" height="85.2" fill="#ebebeb"/>
<path d="M54.03 345.8V431M101.31 345.8V431M148.59 345.8V431M195.87 345.8V431M28 415.55H221.7M28 392.25H221.7M28 368.95H221.7" stroke="#fff" stroke-width="0.7" fill="none" opacity="0.9"/>
<path d="M30.39 345.8V431M77.67 345.8V431M124.95 345.8V431M172.23 345.8V431M219.51 345.8V431M28 427.2H221.7M28 403.9H221.7M28 380.6H221.7M28 357.3H221.7" stroke="#fff" stroke-width="1" fill="none"/>
<g clip-path="url(#cj)">
<rect x="36.3" y="417.41" width="59.1" height="9.79" fill="#fff" stroke="#000" stroke-width="0.8"/>
<rect x="95.4" y="357.3" width="59.1" height="69.9" fill="#fff" stroke="#000" stroke-width="0.8"/>
<rect x="154.5" y="413.78" width="59.1" height="13.42" fill="#fff" stroke="#000" stroke-width="0.8"/>
<path d="M72.1 427.2 L72.1 408.6 C72.58 408.3 73.93 407.37 75 406.8 C76.07 406.23 77.25 405.67 78.5 405.2 C79.75 404.73 81.22 404.4 82.5 404 C83.78 403.6 85.03 403.33 86.2 402.8 C87.37 402.27 88.53 401.6 89.5 400.8 C90.47 400 91.25 399.05 92 398 C92.75 396.95 93.35 395.78 94 394.5 C94.65 393.22 94.95 392.62 95.9 390.3 C96.85 387.98 98.42 383.98 99.7 380.6 C100.98 377.22 102.3 373.37 103.6 370 C104.9 366.63 106.22 363.28 107.5 360.4 C108.78 357.52 110.3 354.4 111.3 352.7 C112.3 351 112.68 350.77 113.5 350.2 C114.32 349.63 115.32 349.33 116.2 349.3 C117.08 349.27 118 349.6 118.8 350 C119.6 350.4 120 350.78 121 351.7 C122 352.62 123.72 354.42 124.8 355.5 C125.88 356.58 126.53 357.38 127.5 358.2 C128.47 359.02 129.43 359.73 130.6 360.4 C131.77 361.07 133.2 361.63 134.5 362.2 C135.8 362.77 137.07 363.28 138.4 363.8 C139.73 364.32 141.22 364.75 142.5 365.3 C143.78 365.85 144.98 366.52 146.1 367.1 C147.22 367.68 148.23 368.15 149.2 368.8 C150.17 369.45 150.97 370 151.9 371 C152.83 372 153.83 373.35 154.8 374.8 C155.77 376.25 156.25 377.28 157.7 379.7 C159.15 382.12 161.52 386.02 163.5 389.3 C165.48 392.58 168.58 397.72 169.6 399.4 L169.6 427.2 L169.6 427.2 L72.1 427.2 Z" fill="#ff6666" fill-opacity="0.2" stroke="#000" stroke-width="1" stroke-linejoin="round"/>
<line x1="125" y1="431.3" x2="125" y2="345.8" stroke="#ff0000" stroke-width="2" stroke-dasharray="6.9 6.92"/>
</g>
<path d="M30.39 431V433.7M77.67 431V433.7M124.95 431V433.7M172.23 431V433.7M219.51 431V433.7M25.3 427.2H28M25.3 403.9H28M25.3 380.6H28M25.3 357.3H28" stroke="#333" stroke-width="0.8" fill="none"/>
<text x="30.39" y="440.6" font-size="7.2" fill="#4d4d4d" text-anchor="middle">-0.8</text>
<text x="77.67" y="440.6" font-size="7.2" fill="#4d4d4d" text-anchor="middle">-0.4</text>
<text x="124.95" y="440.6" font-size="7.2" fill="#4d4d4d" text-anchor="middle">0.0</text>
<text x="172.23" y="440.6" font-size="7.2" fill="#4d4d4d" text-anchor="middle">0.4</text>
<text x="219.51" y="440.6" font-size="7.2" fill="#4d4d4d" text-anchor="middle">0.8</text>
<text x="23.9" y="430.2" font-size="7.2" fill="#4d4d4d" text-anchor="end">0.0</text>
<text x="23.9" y="406.9" font-size="7.2" fill="#4d4d4d" text-anchor="end">0.5</text>
<text x="23.9" y="383.6" font-size="7.2" fill="#4d4d4d" text-anchor="end">1.0</text>
<text x="23.9" y="360.3" font-size="7.2" fill="#4d4d4d" text-anchor="end">1.5</text>
<text transform="translate(7.6 388.9) rotate(-90)" font-size="8.8" text-anchor="middle" fill="#000">Kernel Density</text>
<text x="123.1" y="451.8" font-size="10.8" text-anchor="middle" fill="#000" stroke="#000" stroke-width="0.3" style="font-family:'Liberation Serif',serif">ξ</text>
<text x="219.2" y="363.5" font-size="13.8" text-anchor="end" fill="#000">β=0.38</text>
<text x="19.9" y="450" font-size="13.0" fill="#000">j</text>
<clipPath id="ck"><rect x="252.4" y="345.8" width="199.4" height="86"/></clipPath>
<rect x="252.4" y="345.8" width="199.4" height="86" fill="#ebebeb"/>
<path d="M261.3 345.8V431.8M297.7 345.8V431.8M334.1 345.8V431.8M370.5 345.8V431.8M406.9 345.8V431.8M443.3 345.8V431.8M252.4 417.45H451.8M252.4 395.55H451.8M252.4 373.65H451.8M252.4 351.75H451.8" stroke="#fff" stroke-width="0.7" fill="none" opacity="0.9"/>
<path d="M279.5 345.8V431.8M315.9 345.8V431.8M352.3 345.8V431.8M388.7 345.8V431.8M425.1 345.8V431.8M252.4 428.4H451.8M252.4 406.5H451.8M252.4 384.6H451.8M252.4 362.7H451.8" stroke="#fff" stroke-width="1" fill="none"/>
<g clip-path="url(#ck)">
<rect x="261.3" y="406.5" width="182" height="21.9" fill="#fff" stroke="#000" stroke-width="0.8"/>
<path d="M315.3 428.4 L315.3 381.4 C315.9 379.43 317.65 373.22 318.9 369.6 C320.15 365.98 321.48 362.5 322.8 359.7 C324.12 356.9 325.32 354.43 326.8 352.8 C328.28 351.17 330.23 350.23 331.7 349.9 C333.17 349.57 334.28 349.82 335.6 350.8 C336.92 351.78 338.28 353.33 339.6 355.8 C340.92 358.27 342.18 361.82 343.5 365.6 C344.82 369.38 346.18 374.05 347.5 378.5 C348.82 382.95 350.08 387.87 351.4 392.3 C352.72 396.73 354.08 401.65 355.4 405.1 C356.72 408.55 358.2 411.27 359.3 413 C360.4 414.73 361 414.88 362 415.5 C363 416.12 363.88 416.93 365.3 416.7 C366.72 416.47 368.88 414.92 370.5 414.1 C372.12 413.28 373.35 412.4 375 411.8 C376.65 411.2 378.52 410.35 380.4 410.5 C382.28 410.65 384.22 411.33 386.3 412.7 C388.38 414.07 390.72 416.83 392.9 418.7 C395.08 420.57 396.88 422.6 399.4 423.9 C401.92 425.2 405.37 426.28 408 426.5 C410.63 426.72 412.68 426.4 415.2 425.2 C417.72 424 420.7 421.15 423.1 419.3 C425.5 417.45 427.95 415.4 429.6 414.1 C431.25 412.8 432 412.1 433 411.5 C434 410.9 435.17 410.67 435.6 410.5 L435.6 428.4 L435.6 428.4 L315.3 428.4 Z" fill="#ff6666" fill-opacity="0.2" stroke="#000" stroke-width="1" stroke-linejoin="round"/>
<line x1="349.8" y1="432.1" x2="349.8" y2="345.8" stroke="#ff0000" stroke-width="2" stroke-dasharray="6.9 6.92"/>
</g>
<path d="M279.5 431.8V434.5M315.9 431.8V434.5M352.3 431.8V434.5M388.7 431.8V434.5M425.1 431.8V434.5M249.7 428.4H252.4M249.7 406.5H252.4M249.7 384.6H252.4M249.7 362.7H252.4" stroke="#333" stroke-width="0.8" fill="none"/>
<text x="279.5" y="441.4" font-size="7.2" fill="#4d4d4d" text-anchor="middle">-0.2</text>
<text x="315.9" y="441.4" font-size="7.2" fill="#4d4d4d" text-anchor="middle">-0.1</text>
<text x="352.3" y="441.4" font-size="7.2" fill="#4d4d4d" text-anchor="middle">0.0</text>
<text x="388.7" y="441.4" font-size="7.2" fill="#4d4d4d" text-anchor="middle">0.1</text>
<text x="425.1" y="441.4" font-size="7.2" fill="#4d4d4d" text-anchor="middle">0.2</text>
<text x="248.3" y="431.4" font-size="7.2" fill="#4d4d4d" text-anchor="end">0</text>
<text x="248.3" y="409.5" font-size="7.2" fill="#4d4d4d" text-anchor="end">2</text>
<text x="248.3" y="387.6" font-size="7.2" fill="#4d4d4d" text-anchor="end">4</text>
<text x="248.3" y="365.7" font-size="7.2" fill="#4d4d4d" text-anchor="end">6</text>
<text transform="translate(237.1 389.3) rotate(-90)" font-size="8.8" text-anchor="middle" fill="#000">Kernel Density</text>
<text x="351.2" y="451.6" font-size="10.8" text-anchor="middle" fill="#000" stroke="#000" stroke-width="0.3" style="font-family:'Liberation Serif',serif">ξ</text>
<text x="450.7" y="363" font-size="13.8" text-anchor="end" fill="#000">β=0.36</text>
<text x="242.6" y="450.4" font-size="15.0" fill="#000">k</text>
<clipPath id="cl"><rect x="488" y="345.8" width="193.9" height="85.2"/></clipPath>
<rect x="488" y="345.8" width="193.9" height="85.2" fill="#ebebeb"/>
<path d="M519.02 345.8V431M563.18 345.8V431M607.33 345.8V431M651.48 345.8V431M488 416.2H681.9M488 394.2H681.9M488 372.2H681.9M488 350.2H681.9" stroke="#fff" stroke-width="0.7" fill="none" opacity="0.9"/>
<path d="M496.95 345.8V431M541.1 345.8V431M585.25 345.8V431M629.4 345.8V431M673.55 345.8V431M488 427.2H681.9M488 405.2H681.9M488 383.2H681.9M488 361.2H681.9" stroke="#fff" stroke-width="1" fill="none"/>
<g clip-path="url(#cl)">
<rect x="496.95" y="349.54" width="88.3" height="77.66" fill="#fff" stroke="#000" stroke-width="0.8"/>
<rect x="585.25" y="417.52" width="88.3" height="9.68" fill="#fff" stroke="#000" stroke-width="0.8"/>
<path d="M496.8 427.2 L496.8 366.7 C497.6 366.17 500 364.25 501.6 363.5 C503.2 362.75 504.52 362.07 506.4 362.2 C508.28 362.33 510.48 363.15 512.9 364.3 C515.32 365.45 518.5 367.77 520.9 369.1 C523.3 370.43 525.17 371.58 527.3 372.3 C529.43 373.02 531.83 373.35 533.7 373.4 C535.57 373.45 536.62 373.18 538.5 372.6 C540.38 372.02 542.58 370.97 545 369.9 C547.42 368.83 550.33 367.08 553 366.2 C555.67 365.32 558.6 364.65 561 364.6 C563.4 364.55 565.25 365.1 567.4 365.9 C569.55 366.7 571.88 368.07 573.9 369.4 C575.92 370.73 577.63 372.35 579.5 373.9 C581.37 375.45 583.1 376.83 585.1 378.7 C587.1 380.57 589.15 382.57 591.5 385.1 C593.85 387.63 597.92 392.43 599.2 393.9 L599.2 427.2 L599.2 427.2 L496.8 427.2 Z" fill="#ff6666" fill-opacity="0.2" stroke="#000" stroke-width="1" stroke-linejoin="round"/>
<line x1="540.2" y1="431.3" x2="540.2" y2="345.8" stroke="#ff0000" stroke-width="2" stroke-dasharray="6.9 6.92"/>
</g>
<path d="M496.95 431V433.7M541.1 431V433.7M585.25 431V433.7M629.4 431V433.7M673.55 431V433.7M485.3 427.2H488M485.3 405.2H488M485.3 383.2H488M485.3 361.2H488" stroke="#333" stroke-width="0.8" fill="none"/>
<text x="496.95" y="440.6" font-size="7.2" fill="#4d4d4d" text-anchor="middle">-0.25</text>
<text x="541.1" y="440.6" font-size="7.2" fill="#4d4d4d" text-anchor="middle">0.00</text>
<text x="585.25" y="440.6" font-size="7.2" fill="#4d4d4d" text-anchor="middle">0.25</text>
<text x="629.4" y="440.6" font-size="7.2" fill="#4d4d4d" text-anchor="middle">0.50</text>
<text x="673.55" y="440.6" font-size="7.2" fill="#4d4d4d" text-anchor="middle">0.75</text>
<text x="483.9" y="430.2" font-size="7.2" fill="#4d4d4d" text-anchor="end">0.0</text>
<text x="483.9" y="408.2" font-size="7.2" fill="#4d4d4d" text-anchor="end">0.5</text>
<text x="483.9" y="386.2" font-size="7.2" fill="#4d4d4d" text-anchor="end">1.0</text>
<text x="483.9" y="364.2" font-size="7.2" fill="#4d4d4d" text-anchor="end">1.5</text>
<text transform="translate(467.2 388.9) rotate(-90)" font-size="8.8" text-anchor="middle" fill="#000">Kernel Density</text>
<text x="588" y="449.4" font-size="10.8" text-anchor="middle" fill="#000" stroke="#000" stroke-width="0.3" style="font-family:'Liberation Serif',serif">ξ</text>
<text x="680.3" y="363.5" font-size="13.8" text-anchor="end" fill="#000">β=0.72</text>
<text x="480.1" y="450.4" font-size="13.5" fill="#000">l</text>
<path d="M105.8 100.6H112.3M126.2 100.6H127M130.7 100.6H133.9" stroke="#c4c4c4" stroke-width="1" fill="none"/>
</svg></body></html>
